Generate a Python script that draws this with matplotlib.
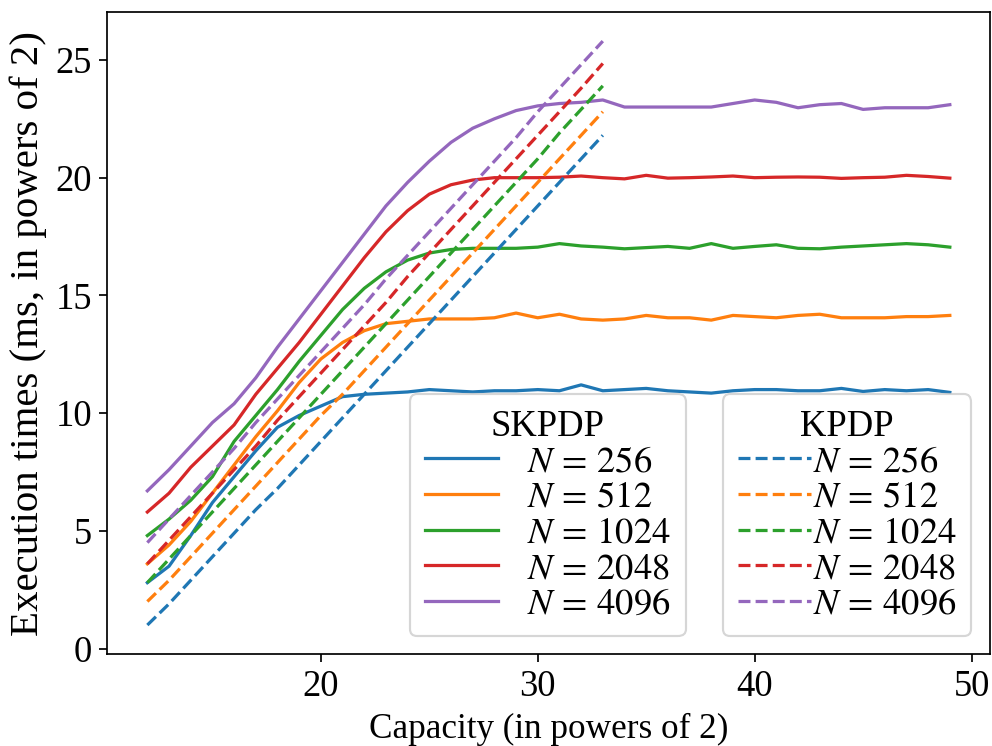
"""
SKPDP vs KPDP execution times
"""

import matplotlib
matplotlib.use("Agg")
import matplotlib.pyplot as plt

capacity_sk = list(range(12, 50))
capacity_k = list(range(12, 34))
sizes = [256, 512, 1024, 2048, 4096]

# SKPDP (solid)
sk_256 = [2.8, 3.5, 4.8, 6.2, 7.3, 8.4, 9.4, 9.9, 10.3, 10.7, 10.8, 10.85, 10.9, 11.0,
          10.95, 10.9, 10.95, 10.95, 11.0, 10.95, 11.2, 10.95, 11.0, 11.05, 10.95, 10.9,
          10.85, 10.95, 11.0, 11.0, 10.95, 10.95, 11.05, 10.92, 11.0, 10.95, 11.0, 10.88]
sk_512 = [3.6, 4.4, 5.4, 6.6, 7.8, 9.0, 10.1, 11.3, 12.3, 13.0, 13.5, 13.8, 13.9, 14.0,
          14.0, 14.0, 14.05, 14.25, 14.05, 14.2, 14.0, 13.95, 14.0, 14.15, 14.05, 14.05,
          13.95, 14.15, 14.1, 14.05, 14.15, 14.2, 14.05, 14.05, 14.05, 14.1, 14.1, 14.15]
sk_1024 = [4.8, 5.5, 6.3, 7.3, 8.8, 9.9, 11.0, 12.2, 13.3, 14.4, 15.3, 16.0, 16.5, 16.8,
           16.95, 17.0, 17.0, 17.0, 17.05, 17.2, 17.1, 17.05, 16.98, 17.03, 17.08, 17.0,
           17.2, 17.0, 17.08, 17.15, 17.0, 16.98, 17.05, 17.1, 17.15, 17.2, 17.15, 17.05]
sk_2048 = [5.8, 6.6, 7.7, 8.6, 9.5, 10.8, 11.9, 13.0, 14.2, 15.4, 16.6, 17.7, 18.6, 19.3,
           19.7, 19.9, 20.0, 20.0, 20.0, 20.02, 20.07, 20.0, 19.95, 20.1, 19.98, 20.0,
           20.03, 20.07, 20.0, 20.02, 20.03, 20.02, 19.97, 20.0, 20.02, 20.1, 20.05, 19.98]
sk_4096 = [6.7, 7.6, 8.6, 9.6, 10.4, 11.5, 12.8, 14.0, 15.2, 16.4, 17.6, 18.8, 19.8, 20.7,
           21.5, 22.1, 22.5, 22.85, 23.05, 23.15, 23.2, 23.3, 23.0, 23.0, 23.0, 23.0,
           23.0, 23.15, 23.3, 23.2, 22.97, 23.1, 23.15, 22.9, 22.97, 22.97, 22.97, 23.1]

# KPDP (dashed)
k_256 = [1.0, 1.9, 2.9, 3.9, 4.9, 5.9, 6.8, 7.8, 8.8, 9.8, 10.8, 11.8, 12.8, 13.8,
         14.8, 15.8, 16.8, 17.8, 18.8, 19.8, 20.8, 21.8]
k_512 = [2.0, 2.9, 3.9, 4.9, 5.9, 6.9, 7.9, 8.9, 9.9, 10.8, 11.8, 12.8, 13.8, 14.8,
         15.8, 16.8, 17.8, 18.8, 19.8, 20.8, 21.8, 22.8]
k_1024 = [2.8, 3.8, 4.8, 5.8, 6.8, 7.8, 8.8, 9.8, 10.8, 11.8, 12.8, 13.8, 14.8, 15.8,
          16.8, 17.8, 18.8, 19.8, 20.8, 21.9, 22.9, 23.9]
k_2048 = [3.6, 4.6, 5.6, 6.6, 7.6, 8.6, 9.7, 10.7, 11.7, 12.7, 13.7, 14.7, 15.8, 16.8,
          17.8, 18.8, 19.8, 20.8, 21.8, 22.8, 23.8, 24.85]
k_4096 = [4.5, 5.5, 6.5, 7.5, 8.5, 9.6, 10.6, 11.6, 12.6, 13.6, 14.6, 15.7, 16.7, 17.7,
          18.7, 19.7, 20.7, 21.7, 22.8, 23.8, 24.8, 25.8]

sk_series = [sk_256, sk_512, sk_1024, sk_2048, sk_4096]
k_series = [k_256, k_512, k_1024, k_2048, k_4096]
colors = ["tab:blue", "tab:orange", "tab:green", "tab:red", "tab:purple"]

plt.rcParams["font.family"] = ["Liberation Serif", "DejaVu Serif"]
plt.rcParams["mathtext.fontset"] = "stix"
plt.rcParams["font.size"] = 17

fig, ax = plt.subplots(figsize=(6.406, 4.813), dpi=155)
fig.subplots_adjust(left=0.108, right=0.997, top=0.984, bottom=0.123)

sk_lines = []
for n, vals, c in zip(sizes, sk_series, colors):
	line, = ax.plot(capacity_sk, vals, color=c, label=rf"$N\,=\,{n}$")
	sk_lines.append(line)

k_lines = []
for n, vals, c in zip(sizes, k_series, colors):
	line, = ax.plot(capacity_k, vals, color=c, linestyle="--", label=rf"$N\,=\,{n}$")
	k_lines.append(line)

ax.set_xlabel("Capacity (in powers of 2)", fontsize=16.3)
ax.set_ylabel("Execution times (ms, in powers of 2)", fontsize=19)

leg1 = ax.legend(handles=sk_lines, title="SKPDP", loc="lower left",
                 bbox_to_anchor=(0.343, 0.028), borderaxespad=0, labelspacing=0.03)
ax.add_artist(leg1)
ax.legend(handles=k_lines, title="KPDP", loc="lower right",
          bbox_to_anchor=(0.979, 0.028), borderaxespad=0, labelspacing=0.03,
          handletextpad=0.05)

fig.savefig("out.png", dpi=155)
